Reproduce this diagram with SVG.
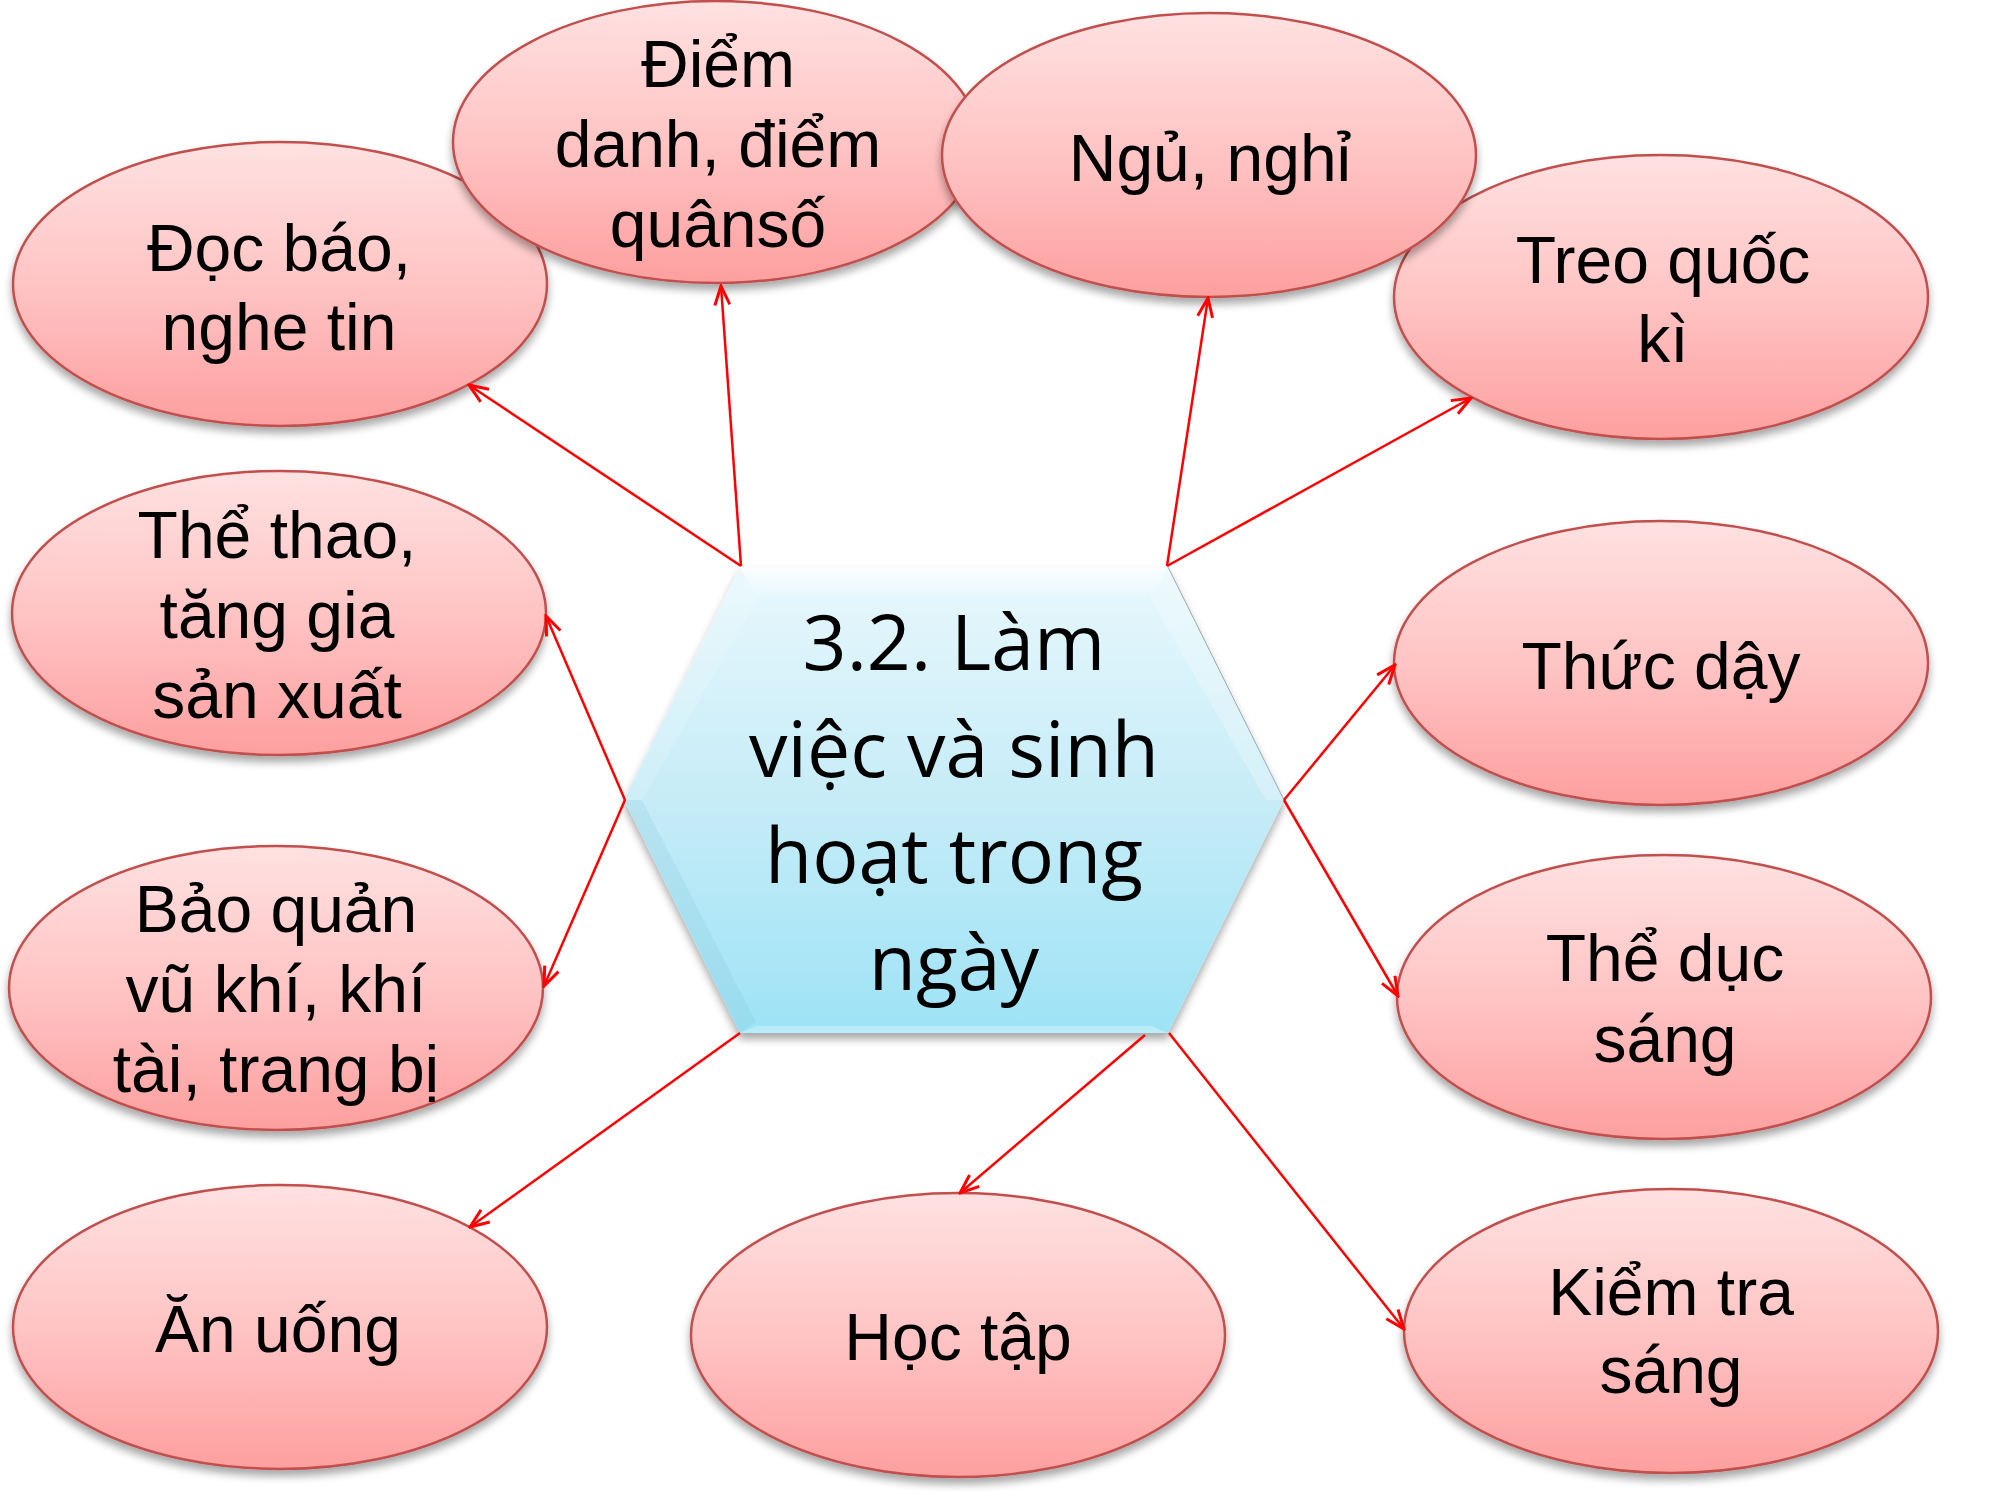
<svg xmlns="http://www.w3.org/2000/svg" width="2000" height="1500" viewBox="0 0 2000 1500">
<defs>
<linearGradient id="pink" x1="0" y1="0" x2="0" y2="1">
<stop offset="0" stop-color="#ffe1e1"/>
<stop offset="0.5" stop-color="#ffc4c4"/>
<stop offset="1" stop-color="#fd9f9f"/>
</linearGradient>
<linearGradient id="blue" x1="0" y1="0" x2="0" y2="1">
<stop offset="0" stop-color="#e8f8fc"/>
<stop offset="0.5" stop-color="#c6ecf7"/>
<stop offset="1" stop-color="#9de3f6"/>
</linearGradient>
<linearGradient id="topBevel" x1="0" y1="0" x2="0" y2="1">
<stop offset="0" stop-color="#ffffff" stop-opacity="1"/>
<stop offset="1" stop-color="#ffffff" stop-opacity="0.1"/>
</linearGradient>
<filter id="sh" x="-10%" y="-10%" width="120%" height="130%">
<feGaussianBlur in="SourceAlpha" stdDeviation="4"/>
<feOffset dx="0" dy="6" result="b"/>
<feComponentTransfer><feFuncA type="linear" slope="0.35"/></feComponentTransfer>
<feMerge><feMergeNode/><feMergeNode in="SourceGraphic"/></feMerge>
</filter>
<marker id="arr" viewBox="0 0 22 18" refX="20" refY="9" markerWidth="22" markerHeight="18" markerUnits="userSpaceOnUse" orient="auto">
<path d="M1,1.5 L20,9 L1,16.5" fill="none" stroke="#ff0000" stroke-width="3"/>
</marker>
</defs>
<style>
.node ellipse{fill:url(#pink);stroke:#c0504d;stroke-width:2.5;filter:url(#sh);}
.node text{font-family:"Liberation Sans",Arial,sans-serif;font-size:66px;fill:#000;text-anchor:middle;}
.hex text{font-family:"Open Sans","Noto Sans",sans-serif;font-size:77px;fill:#000;text-anchor:middle;}
.conn line{stroke:#ff0000;stroke-width:2.5;fill:none;marker-end:url(#arr);}
</style>
<rect width="2000" height="1500" fill="#ffffff"/>

<g id="node-doc-bao" class="node">
<ellipse cx="280" cy="284" rx="267" ry="142"/>
<text x="279" y="271">Đọc báo,</text>
<text x="279" y="350">nghe tin</text>
</g>
<g id="node-diem-danh" class="node">
<ellipse cx="716" cy="142" rx="263" ry="141"/>
<text x="718" y="87">Điểm</text>
<text x="718" y="167">danh, điểm</text>
<text x="718" y="247">quânsố</text>
</g>
<g id="node-treo-quoc-ki" class="node">
<ellipse cx="1661" cy="297" rx="267" ry="142"/>
<text x="1663" y="283">Treo quốc</text>
<text x="1663" y="362">kì</text>
</g>
<g id="node-ngu-nghi" class="node">
<ellipse cx="1209" cy="155" rx="267" ry="142"/>
<text x="1210" y="181">Ngủ, nghỉ</text>
</g>
<g id="node-the-thao" class="node">
<ellipse cx="279" cy="613" rx="267" ry="142"/>
<text x="277" y="558">Thể thao,</text>
<text x="277" y="638">tăng gia</text>
<text x="277" y="718">sản xuất</text>
</g>
<g id="node-bao-quan" class="node">
<ellipse cx="276" cy="988" rx="267" ry="142"/>
<text x="276" y="932">Bảo quản</text>
<text x="276" y="1012">vũ khí, khí</text>
<text x="276" y="1092">tài, trang bị</text>
</g>
<g id="node-thuc-day" class="node">
<ellipse cx="1661" cy="663" rx="267" ry="142"/>
<text x="1661" y="689">Thức dậy</text>
</g>
<g id="node-the-duc-sang" class="node">
<ellipse cx="1664" cy="997" rx="267" ry="142"/>
<text x="1665" y="981">Thể dục</text>
<text x="1665" y="1062">sáng</text>
</g>
<g id="node-kiem-tra-sang" class="node">
<ellipse cx="1671" cy="1331" rx="267" ry="142"/>
<text x="1671" y="1315">Kiểm tra</text>
<text x="1671" y="1393">sáng</text>
</g>
<g id="node-an-uong" class="node">
<ellipse cx="280" cy="1327" rx="267" ry="142"/>
<text x="278" y="1352">Ăn uống</text>
</g>
<g id="node-hoc-tap" class="node">
<ellipse cx="958" cy="1335" rx="267" ry="142"/>
<text x="958" y="1360">Học tập</text>
</g>

<g id="node-center" class="hex">
<polygon points="740,567 1168,567 1284,800 1168,1033 740,1033 624,800" fill="url(#blue)" filter="url(#sh)"/>
<polygon points="740,567 1168,567 1150,598 758,598" fill="url(#topBevel)" opacity="0.8"/>
<polygon points="740,567 758,598 642,800 624,800" fill="#ffffff" opacity="0.15"/>
<polygon points="1168,567 1284,800 1266,800 1150,598" fill="#ffffff" opacity="0.25"/>
<polygon points="624,800 642,800 756,1022 740,1033" fill="#7fbfd0" opacity="0.18"/>
<polygon points="740,1033 756,1026 1152,1026 1168,1033" fill="#c9f2fb" opacity="0.6"/>
<line x1="1168" y1="567" x2="1284" y2="800" stroke="#98aab0" stroke-width="1"/>
<text x="954" y="670">3.2. Làm</text>
<text x="954" y="777">việc và sinh</text>
<text x="954" y="883">hoạt trong</text>
<text x="954" y="990">ngày</text>
</g>

<g id="connectors" class="conn">
<line x1="741" y1="566" x2="469" y2="385"/>
<line x1="741" y1="566" x2="721" y2="286"/>
<line x1="1167" y1="566" x2="1208" y2="298"/>
<line x1="1167" y1="566" x2="1471" y2="398"/>
<line x1="625" y1="800" x2="546" y2="616"/>
<line x1="625" y1="800" x2="544" y2="986"/>
<line x1="1284" y1="800" x2="1395" y2="665"/>
<line x1="1284" y1="800" x2="1398" y2="996"/>
<line x1="1169" y1="1033" x2="1404" y2="1329"/>
<line x1="740" y1="1033" x2="470" y2="1227"/>
<line x1="1145" y1="1035" x2="960" y2="1193"/>
</g>
</svg>
